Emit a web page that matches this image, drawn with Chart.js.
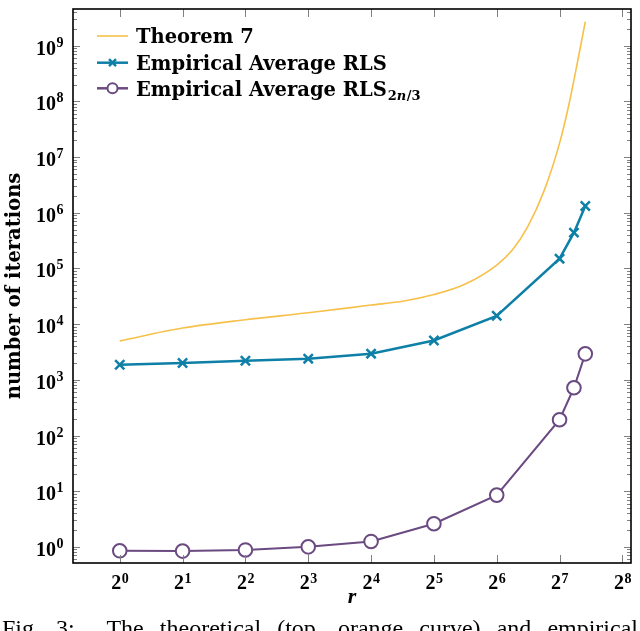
<!doctype html>
<html>
<head>
    <title>RLS iterations vs r</title>
    <script src="https://cdn.jsdelivr.net/npm/chart.js@4.4.0/dist/chart.umd.min.js"></script>
    <style>
        body { margin: 0; background: #fff; }
        #wrap { position: relative; width: 640px; height: 631px; overflow: hidden; }
        #caption {
            position: absolute; left: 2px; width: 636px; top: 616px;
            font: 24px "Liberation Serif", serif; line-height: 24px;
            text-align: justify; text-align-last: justify; white-space: nowrap;
        }
    </style>
</head>
<body>
<div id="wrap">
    <canvas id="myChart"></canvas>
    <div id="caption">Fig. 3:&nbsp; The theoretical (top, orange curve) and empirical</div>
</div>
<script>
// theoretical bound
var theoremR = [1, 2, 4, 8, 16, 23, 32, 45, 64, 76, 90, 108, 128, 142, 160, 170];
var theoremIters = [5000, 8500, 12000, 16000, 22000, 26000, 34000, 52000, 115000, 214000,
                    560000, 2500000, 17800000, 89000000, 830000000, 2700000000];
// empirical averages
var empR = [1, 2, 4, 8, 16, 32, 64, 128, 150, 170];
var rlsIters = [1860, 2000, 2200, 2400, 2950, 5100, 14100, 150000, 440000, 1320000];
var rls23Iters = [0.85, 0.84, 0.88, 1.0, 1.25, 2.6, 8.5, 192, 720, 2930];

var xTicks = [1, 2, 4, 8, 16, 32, 64, 128, 256];
var xTickExp = ['0', '1', '2', '3', '4', '5', '6', '7', '8'];
var yTicks = [1, 10, 100, 1e3, 1e4, 1e5, 1e6, 1e7, 1e8, 1e9];
var yTickExp = ['0', '1', '2', '3', '4', '5', '6', '7', '8', '9'];

var seriesNames = ['Theorem 7', 'Empirical Average RLS', 'Empirical Average RLS'];
var seriesSub = ['', '', '2n/3'];
var colors = ['#F7C04A', '#0E7FA6', '#6A4A80'];

function pts(xs, ys) {
    return xs.map(function(x, i) { return { x: x, y: ys[i] }; });
}

var SERIF = '"Liberation Serif", serif';
var WIDE = '"DejaVu Serif", serif';

var axesPlugin = {
    id: 'axesDeco',
    afterDatasetsDraw: function(chart) {
        var ctx = chart.ctx, a = chart.chartArea;
        var xs = chart.scales.x, ys = chart.scales.y;
        ctx.save();

        // inward ticks
        ctx.strokeStyle = '#808080';
        ctx.lineWidth = 1;
        ctx.beginPath();
        for (var e = -1; e <= 9; e++) {
            for (var k = 1; k <= 9; k++) {
                var v = k * Math.pow(10, e);
                if (v < ys.min || v > ys.max) continue;
                var py = Math.round(ys.getPixelForValue(v)) + 0.5;
                var len = k === 1 ? 7 : 4;
                ctx.moveTo(a.left, py); ctx.lineTo(a.left + len, py);
                ctx.moveTo(a.right, py); ctx.lineTo(a.right - len, py);
            }
        }
        xTicks.forEach(function(v) {
            var px = Math.round(xs.getPixelForValue(v)) + 0.5;
            ctx.moveTo(px, a.bottom); ctx.lineTo(px, a.bottom - 8);
            ctx.moveTo(px, a.top); ctx.lineTo(px, a.top + 8);
        });
        ctx.stroke();

        // frame
        ctx.strokeStyle = '#000';
        ctx.lineWidth = 1.6;
        ctx.strokeRect(a.left, a.top, a.right - a.left, a.bottom - a.top);

        // tick labels
        ctx.fillStyle = '#000';
        ctx.textAlign = 'left';
        ctx.textBaseline = 'alphabetic';
        var bigFont = 'bold 20px ' + SERIF, smallFont = 'bold 14px ' + SERIF;
        yTicks.forEach(function(v, i) {
            var py = ys.getPixelForValue(v);
            ctx.font = bigFont;
            var w1 = ctx.measureText('10').width;
            ctx.font = smallFont;
            var w2 = ctx.measureText(yTickExp[i]).width;
            var x0 = a.left - 10 - w1 - w2;
            ctx.font = bigFont;
            ctx.fillText('10', x0, py + 9);
            ctx.font = smallFont;
            ctx.fillText(yTickExp[i], x0 + w1 + 0.5, py + 1);
        });
        xTicks.forEach(function(v, i) {
            var px = xs.getPixelForValue(v);
            ctx.font = bigFont;
            var w1 = ctx.measureText('2').width;
            ctx.font = smallFont;
            var w2 = ctx.measureText(xTickExp[i]).width;
            var x0 = px - (w1 + w2) / 2;
            ctx.font = bigFont;
            ctx.fillText('2', x0, 589);
            ctx.font = smallFont;
            ctx.fillText(xTickExp[i], x0 + w1 + 0.5, 583);
        });

        // axis titles
        ctx.textAlign = 'center';
        ctx.font = 'bold italic 22px ' + SERIF;
        ctx.fillText('r', (a.left + a.right) / 2, 603);
        ctx.save();
        ctx.translate(20, (a.top + a.bottom) / 2);
        ctx.rotate(-Math.PI / 2);
        ctx.font = 'bold 19.5px ' + WIDE;
        ctx.fillText('number of iterations', 0, 0);
        ctx.restore();

        // legend
        var rows = [36, 62.7, 88.3];
        ctx.textAlign = 'left';
        rows.forEach(function(ry, i) {
            ctx.strokeStyle = colors[i];
            ctx.lineWidth = i === 0 ? 1.6 : 2.5;
            ctx.beginPath();
            ctx.moveTo(97, ry); ctx.lineTo(128, ry);
            ctx.stroke();
            var cx = 112.5;
            if (i === 1) {
                ctx.beginPath();
                ctx.moveTo(cx - 3.5, ry - 3.5); ctx.lineTo(cx + 3.5, ry + 3.5);
                ctx.moveTo(cx - 3.5, ry + 3.5); ctx.lineTo(cx + 3.5, ry - 3.5);
                ctx.stroke();
            } else if (i === 2) {
                ctx.lineWidth = 2;
                ctx.fillStyle = '#fff';
                ctx.beginPath();
                ctx.arc(cx, ry, 5, 0, Math.PI * 2);
                ctx.fill();
                ctx.stroke();
            }
            ctx.fillStyle = '#000';
            ctx.font = 'bold 19.5px ' + WIDE;
            ctx.fillText(seriesNames[i], 136, ry + 7.3);
            if (seriesSub[i]) {
                var sx = 136 + ctx.measureText(seriesNames[i]).width + 1;
                var sy = ry + 11.5;
                ctx.font = 'bold 13px ' + WIDE;
                ctx.fillText('2', sx, sy);
                sx += ctx.measureText('2').width;
                ctx.font = 'bold italic 13px ' + WIDE;
                ctx.fillText('n', sx, sy);
                sx += ctx.measureText('n').width + 0.5;
                ctx.font = 'bold 13px ' + WIDE;
                ctx.fillText('/3', sx, sy);
            }
        });
        ctx.restore();
    }
};

var ctx = document.getElementById('myChart').getContext('2d');
new Chart(ctx, {
    type: 'line',
    data: {
        datasets: [
            {
                label: seriesNames[0],
                data: pts(theoremR, theoremIters),
                borderColor: colors[0],
                borderWidth: 1.6,
                pointRadius: 0,
                cubicInterpolationMode: 'monotone'
            },
            {
                label: seriesNames[1],
                data: pts(empR, rlsIters),
                borderColor: colors[1],
                borderWidth: 2.5,
                pointStyle: 'crossRot',
                pointRadius: 6.5,
                pointBorderWidth: 2.5,
                pointBorderColor: colors[1],
                tension: 0
            },
            {
                label: seriesNames[2] + seriesSub[2],
                data: pts(empR, rls23Iters),
                borderColor: colors[2],
                borderWidth: 2,
                pointStyle: 'circle',
                pointRadius: 6.8,
                pointBorderWidth: 2,
                pointBorderColor: colors[2],
                pointBackgroundColor: '#fff',
                tension: 0
            }
        ]
    },
    options: {
        responsive: true,
        maintainAspectRatio: false,
        animation: false,
        layout: { padding: { top: 3, right: 9, left: 0, bottom: 0 } },
        plugins: { legend: { display: false }, tooltip: { enabled: false } },
        scales: {
            x: {
                type: 'logarithmic', min: 0.597, max: 281.5, bounds: 'data',
                grid: { display: false }, border: { display: false },
                ticks: { display: false },
                afterFit: function(s) { s.height = 68; }
            },
            y: {
                type: 'logarithmic', min: 0.513, max: 4.57e9, bounds: 'data',
                grid: { display: false }, border: { display: false },
                ticks: { display: false },
                afterFit: function(s) { s.width = 73; }
            }
        }
    },
    plugins: [axesPlugin]
});
</script>
</body>
</html>
